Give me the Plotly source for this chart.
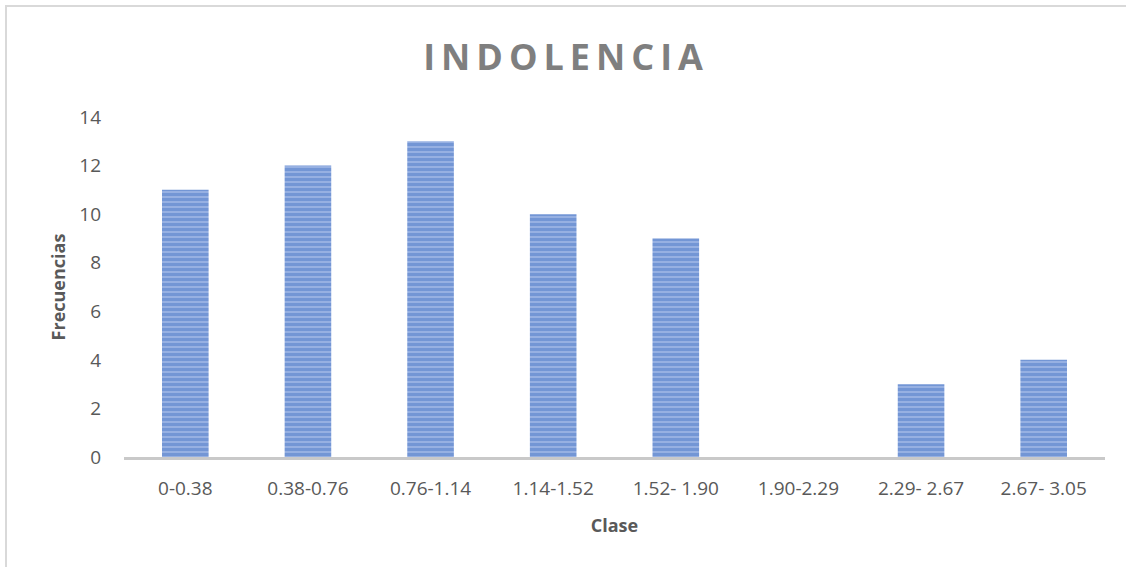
import plotly.graph_objects as go

CATEGORIES = ["0-0.38", "0.38-0.76", "0.76-1.14", "1.14-1.52", "1.52- 1.90",
              "1.90-2.29", "2.29- 2.67", "2.67- 3.05"]
FREQUENCIES = [11, 12, 13, 10, 9, 0, 3, 4]
Y_TICKS = [0, 2, 4, 6, 8, 10, 12, 14]

TEXT_COLOR = "#595959"
BAR_BLUE = "#4472c4"

L, R, T, B = 124, 21, 117, 110
W, H = 1126, 567
PW, PH = W - L - R, H - T - B

fig = go.Figure()
fig.add_trace(
    go.Bar(
        x=CATEGORIES,
        y=FREQUENCIES,
        width=0.38,
        marker={
            "color": "#a3bbe6",
            "line": {"width": 0},
            "pattern": {"shape": "-", "fgcolor": BAR_BLUE, "size": 5, "solidity": 0.72},
        },
        hoverinfo="x+y",
    )
)

fig.update_layout(
    width=W,
    height=H,
    paper_bgcolor="white",
    plot_bgcolor="white",
    font={"family": "Open Sans, sans-serif", "color": TEXT_COLOR, "size": 19},
    margin={"l": L, "r": R, "t": T, "b": B},
    showlegend=False,
    title={
        "text": "<b>I\u2009N\u2009D\u2009O\u2009L\u2009E\u2009N\u2009C\u2009I\u2009A</b>",
        "x": 0.5,
        "xanchor": "center",
        "y": 1 - 57 / H,
        "yanchor": "middle",
        "font": {"size": 36, "color": "#7f7f7f"},
    },
    xaxis={
        "showgrid": False,
        "showline": True,
        "linecolor": "#c9c9c9",
        "linewidth": 3,
        "ticks": "",
        "ticklabelstandoff": 12,
        "tickfont": {"size": 19, "color": TEXT_COLOR},
        "title": {"text": "<b>Clase</b>", "font": {"size": 18, "color": TEXT_COLOR}, "standoff": 20},
        "fixedrange": True,
    },
    yaxis={
        "range": [0, 14],
        "tickvals": Y_TICKS,
        "showgrid": False,
        "zeroline": False,
        "showline": False,
        "ticks": "",
        "ticklabelstandoff": 22,
        "tickfont": {"size": 19, "color": TEXT_COLOR},
        "title": {"text": "<b>Frecuencias</b>", "font": {"size": 18, "color": TEXT_COLOR}, "standoff": 8},
        "fixedrange": True,
    },
    shapes=[
        {
            "type": "rect",
            "xref": "paper",
            "yref": "paper",
            "x0": (6 - L) / PW,
            "x1": (W + 10 - L) / PW,
            "y0": -(H + 10 - (H - B)) / PH,
            "y1": 1 + (T - 6) / PH,
            "line": {"color": "#d9d9d9", "width": 2},
            "layer": "below",
        }
    ],
)

fig.write_html(
    "out.html",
    config={"displayModeBar": False},
    post_script="document.body.style.margin = '0';",
)
